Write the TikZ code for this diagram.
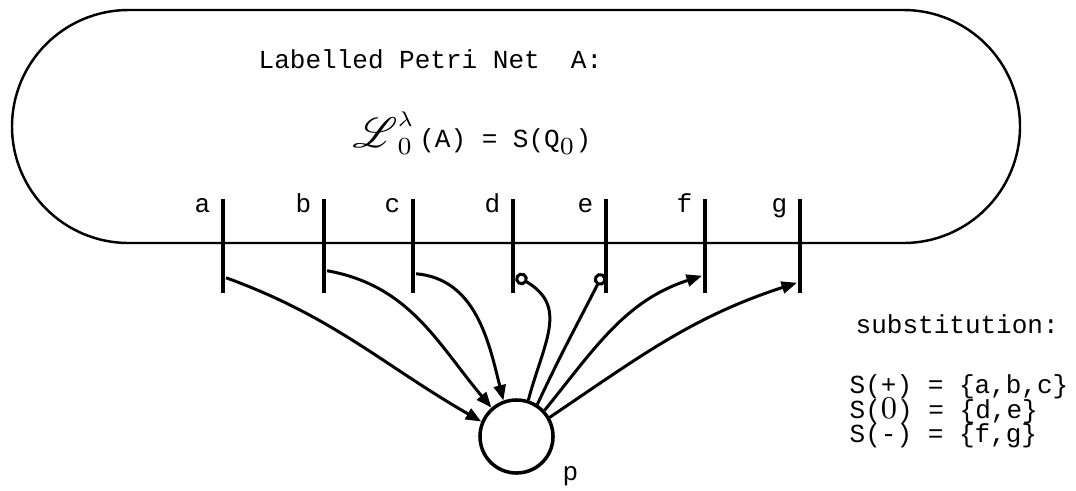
\documentclass[tikz,border=0pt]{standalone}
\usepackage[no-math]{fontspec}
\setmainfont{Liberation Mono}
\usepackage{mathrsfs}
\usetikzlibrary{calc,arrows.meta,positioning}
\newcommand{\tinyTxt}[1]{\mbox{\fontsize{6}{6}\selectfont #1}}
\newcommand{\plainZero}[1][8.8]{\mbox{\fontsize{#1}{#1}\selectfont$\mathrm{0}$}}
\tikzset{
myTrans/.style={
	rectangle, fill=black,
	inner sep=0pt, minimum width=1.3pt, minimum height=0.94cm
}
, myPlace/.style={
	circle, draw, line width=1pt,
	inner sep=0pt, minimum size=0.73cm
}
, myLabel/.style={
	inner sep=0pt, text=black,
	font=\fontsize{7.4}{7.4}\selectfont
}
% link
, myArc/.style={-{Triangle[length=4.4pt,width=3.4pt]},line width=0.85pt}
, myInhib/.style={-{Circle[open,length=3.6pt,width=3.6pt]},line width=0.85pt}
}

\begin{document}
\begin{tikzpicture}[x=0.01cm,y=0.01cm]
	\useasboundingbox (0,0) rectangle (1076,490);
	% net border
	\draw[line width=0.7pt, rounded corners=1.165cm] (12,247) -- (12,480) -- (1020,480) -- (1020,247) -- cycle;
	\node[myLabel, anchor=base west] (title) at (258,422) {Labelled Petri Net\ \ A:};
	\node[myLabel, anchor=base west] (lang) at (352,343)
		{\(\mbox{\fontsize{12}{12}\selectfont$\mathscr{L}$}^{\tinyTxt{$\lambda$}}_{\plainZero[6.6]}\)\,(A) = S(Q\(_{\plainZero[6.6]}\))};

	% transitions
	\foreach \n/\x in {a/223,b/324,c/413,d/513,e/606,f/705,g/800}{
		\node[myTrans] (t\n) at (\x,244) {};
		\node[myLabel, anchor=base east] (l\n) at (\x-12,278) {\n};
	}
	% place
	\node[myPlace] (p) at (516.5,53.5) {};
	\node[myLabel, anchor=base west] (pLbl) at (562,10) {p};

	% links
	\draw[myArc] ($(ta.south east)+(0,16)$) to[out=-20,in=150] (p.157);
	\draw[myArc] ($(tb.south east)+(0,23)$) to[out=-10,in=130] (p.131);
	\draw[myArc] ($(tc.south east)+(0,20)$) to[out=-5,in=104] (p.110);
	\draw[myInhib] (p.72) to[out=75,in=-30,looseness=1.25] ($(td.south east)+(0,18)$);
	\draw[myInhib] (p.57) to[out=65,in=-117] ($(te.south west)+(0,20)$);
	\draw[myArc] (p.43) to[out=51,in=198] ($(tf.south west)+(0,18)$);
	\draw[myArc] (p.30) to[out=34,in=198] ($(tg.south west)+(0,11)$);

	% substitution
	\node[myLabel, anchor=base west] (subst) at (855,157) {substitution:};
	\node[myLabel, anchor=base west] (sPlus) at (849,97) {S(+) = \{a,b,c\}};
	\node[myLabel, anchor=base west] (sZero) at (849,72) {S(\plainZero) = \{d,e\}};
	\node[myLabel, anchor=base west] (sMinus) at (849,48) {S(-) = \{f,g\}};
\end{tikzpicture}
\end{document}
